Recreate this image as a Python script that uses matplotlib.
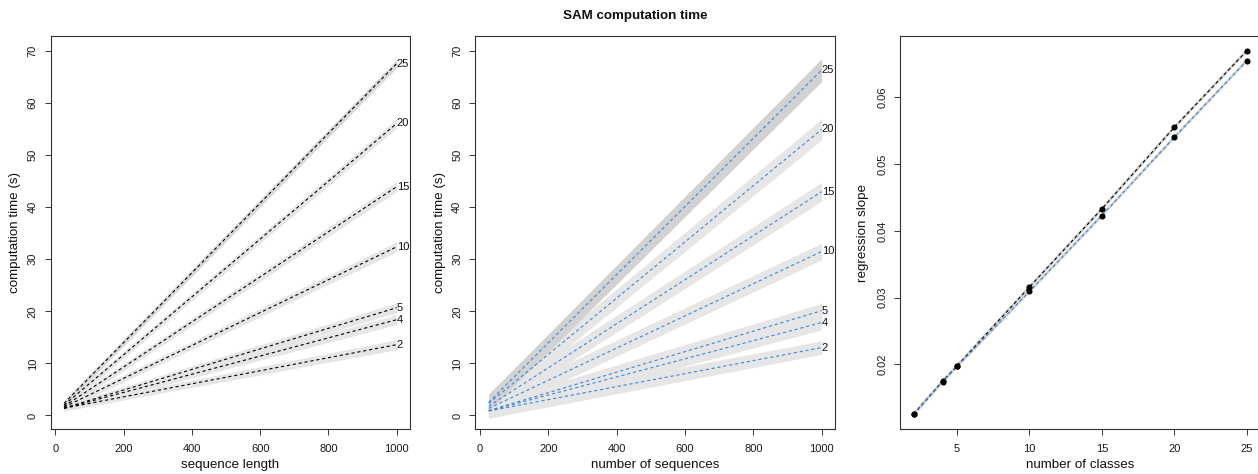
import numpy as np
import matplotlib
matplotlib.use("Agg")
import matplotlib.pyplot as plt

plt.rcParams['font.family'] = ['Liberation Sans', 'DejaVu Sans']
plt.rcParams['lines.scale_dashes'] = False

# number of classes in the simulated data
classes = [2, 4, 5, 10, 15, 20, 25]
class_labels = ['2', '4', '5', '10', '15', '20', '25']

# range of the predictor used for the fitted lines
x_range = [25, 1000]

# fitted time ~ sequence length, one fit per number of classes
slope_length = [0.01252, 0.01746, 0.01976, 0.03158, 0.04329, 0.05551, 0.06697]
intercept_length = [1.08, 0.94, 0.94, 0.82, 0.66, 0.59, 0.63]
ci_length_start = [0.55, 0.55, 0.55, 0.6, 0.6, 0.6, 0.6]
ci_length_end = [0.95, 0.95, 0.95, 0.95, 0.95, 0.9, 0.8]

# fitted time ~ number of sequences, one fit per number of classes
slope_nseq = [0.01248, 0.01740, 0.01968, 0.03092, 0.04229, 0.05401, 0.06548]
intercept_nseq = [0.55, 0.45, 0.45, 0.58, 0.71, 0.95, 0.87]
ci_nseq_start = [1.4, 1.4, 1.4, 1.5, 1.5, 1.6, 1.6]
ci_nseq_end = [1.3, 1.4, 1.4, 1.6, 1.8, 2.0, 2.2]

W, H = 1258, 474
fig = plt.figure(figsize=(W / 100, H / 100), dpi=100)

BLUE = '#3a86d8'
AX_COLOR = '#333333'
TICK_PT = 8.0
LABEL_PT = 9.6


def px_axes(left, right, top, bottom):
    return fig.add_axes([left / W, 1 - bottom / H, (right - left) / W, (bottom - top) / H])


def style_axes(ax, xlabel, ylabel, ylab_off):
    for s in ax.spines.values():
        s.set_color(AX_COLOR)
        s.set_linewidth(0.8)
    ax.tick_params(axis='both', direction='out', length=4.1, width=0.7,
                   color=AX_COLOR, labelsize=TICK_PT, labelcolor='#1a1a1a')
    ax.tick_params(axis='x', pad=10.3)
    ax.tick_params(axis='y', pad=8.9, labelrotation=90)
    plt.setp(ax.get_xticklabels(), va='center')
    plt.setp(ax.get_yticklabels(), va='center', ha='center')
    ax.set_xlabel(xlabel, fontsize=LABEL_PT, va='center', color='#111111')
    ax.set_ylabel(ylabel, fontsize=LABEL_PT, va='center', color='#111111')
    bw = ax.get_position().width * W
    bh = ax.get_position().height * H
    ax.xaxis.set_label_coords(0.5, -36 / bh)
    ax.yaxis.set_label_coords(-ylab_off / bw, 0.5)


def time_panel(ax, slopes, intercepts, ci0, ci1, line_color, band_colors, xlabel):
    xs = np.array(x_range, dtype=float)
    for i, k in enumerate(classes):
        y = intercepts[i] + slopes[i] * xs
        hw = np.array([ci0[i], ci1[i]])
        ax.fill_between(xs, y - hw, y + hw, color=band_colors[k], lw=0, zorder=1)
    for i, k in enumerate(classes):
        y = intercepts[i] + slopes[i] * xs
        ax.plot(xs, y, color=line_color, lw=0.8, ls=(0, (2.3, 2.0)), zorder=3)
        ax.text(xs[-1], y[-1], class_labels[i], ha='left', va='center',
                fontsize=8.0, color='#111111', zorder=4)
    ax.set_xlim(-14, 1039)
    ax.set_ylim(-2.6, 72.9)
    ax.set_xticks([0, 200, 400, 600, 800, 1000])
    ax.set_yticks([0, 10, 20, 30, 40, 50, 60, 70])
    style_axes(ax, xlabel, 'computation time (s)', 35.7)


band_len = {k: (0.9, 0.9, 0.9) for k in classes}
band_len[25] = (0.85, 0.85, 0.85)
band_nseq = {k: (0.9, 0.9, 0.9) for k in classes}
band_nseq[25] = (0.825, 0.825, 0.825)

ax1 = px_axes(50.7, 410.0, 36, 429)
time_panel(ax1, slope_length, intercept_length, ci_length_start, ci_length_end,
           'black', band_len, 'sequence length')

ax2 = px_axes(475.3, 835.0, 36, 429)
time_panel(ax2, slope_nseq, intercept_nseq, ci_nseq_start, ci_nseq_end,
           BLUE, band_nseq, 'number of sequences')

# slope of each fit against the number of classes
ax3 = px_axes(900.3, 1260.0, 36, 429)
ax3.plot(classes, slope_length, color='#d2d2d2', lw=2.0, solid_capstyle='butt', zorder=1)
ax3.plot(classes, slope_nseq, color='#d2d2d2', lw=2.0, solid_capstyle='butt', zorder=1)
ax3.plot(classes, slope_length, color='black', lw=0.8, ls=(0, (2.3, 2.0)), zorder=2)
ax3.plot(classes, slope_nseq, color=BLUE, lw=0.8, ls=(0, (2.3, 2.0)), zorder=2)
ax3.plot(classes, slope_length, 'o', color='black', ms=4.4, mew=0, zorder=3)
ax3.plot(classes, slope_nseq, 'o', color='black', ms=4.4, mew=0, zorder=3)
ax3.set_xlim(1.08, 25.92)
ax3.set_ylim(0.0103, 0.0692)
ax3.set_xticks([5, 10, 15, 20, 25])
ax3.set_yticks([0.02, 0.03, 0.04, 0.05, 0.06])
ax3.set_yticklabels(['0.02', '0.03', '0.04', '0.05', '0.06'])
style_axes(ax3, 'number of classes', 'regression slope', 37.0)

fig.text(634.8 / W, 1 - 16 / H, 'SAM computation time', ha='center', va='center',
         fontsize=9.6, fontweight='bold', color='#111111')

fig.savefig('out.png', dpi=100, facecolor='white')
